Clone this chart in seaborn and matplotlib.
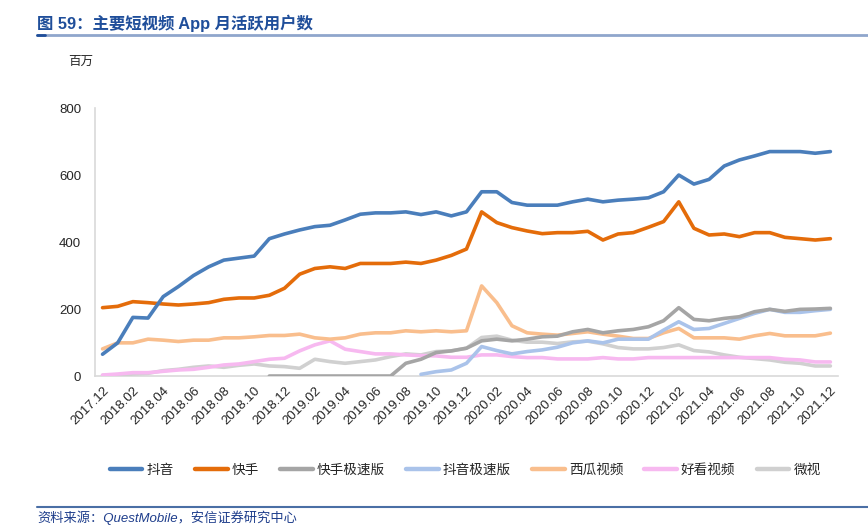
import numpy as np
import pandas as pd
import seaborn as sns
import matplotlib.pyplot as plt
from matplotlib.lines import Line2D

# monthly labels 2017.12 - 2021.12
months = ["2017.12"] + [f"{y}.{m:02d}" for y in range(2018, 2022) for m in range(1, 13)]

douyin = [65, 99, 175, 173, 237, 267, 300, 326, 346, 352, 358, 410, 424, 436, 446,
          450, 466, 483, 487, 487, 490, 482, 490, 478, 490, 550, 550, 518, 510, 510,
          510, 520, 528, 520, 525, 528, 532, 550, 600, 573, 587, 627, 645, 657, 670,
          670, 670, 665, 670]
kuaishou = [204, 208, 222, 219, 215, 212, 215, 219, 229, 233, 233, 241, 262, 304, 321,
            326, 321, 336, 336, 336, 340, 336, 346, 360, 379, 490, 458, 443, 433, 425,
            428, 428, 432, 406, 424, 428, 444, 461, 520, 441, 421, 424, 416, 428, 428,
            414, 410, 406, 410]
ks_jisu = [np.nan] * 11 + [0, 0, 0, 0, 0, 0, 0, 0, 0,
                           38, 50, 70, 75, 83, 105, 110, 105, 110, 117, 119, 132, 139,
                           129, 135, 139, 147, 165, 204, 169, 165, 172, 177, 192, 199,
                           193, 199, 200, 202]
dy_jisu = [np.nan] * 21 + [5, 13, 18, 38, 88, 76, 66, 73, 78, 86, 99, 105, 99, 110,
                           110, 110, 137, 162, 139, 142, 157, 172, 187, 199, 190, 190,
                           195, 199]
xigua = [81, 99, 99, 110, 107, 103, 107, 107, 114, 114, 117, 121, 121, 125, 114,
         110, 114, 125, 129, 129, 135, 132, 135, 132, 135, 269, 219, 150, 129, 125,
         122, 127, 132, 125, 119, 112, 112, 129, 142, 114, 114, 114, 110, 120, 127,
         120, 120, 120, 128]
haokan = [3, 6, 10, 10, 14, 18, 20, 26, 33, 36, 43, 50, 53, 75, 93,
          105, 80, 73, 66, 66, 63, 61, 60, 56, 56, 63, 63, 58, 55, 55,
          51, 51, 51, 55, 51, 51, 55, 55, 55, 55, 55, 55, 55, 55, 55,
          50, 48, 42, 42]
weishi = [2, 2, 6, 8, 16, 20, 26, 30, 26, 32, 36, 30, 28, 23, 50,
          43, 38, 43, 48, 58, 66, 63, 73, 75, 83, 115, 119, 107, 101, 101,
          97, 102, 104, 96, 85, 81, 81, 85, 93, 76, 72, 63, 56, 52, 48,
          41, 38, 30, 30]

series_names = ["抖音", "快手", "快手极速版", "抖音极速版", "西瓜视频", "好看视频", "微视"]
series_vals = [douyin, kuaishou, ks_jisu, dy_jisu, xigua, haokan, weishi]
colors = ["#4A7EBB", "#E46C0A", "#A5A5A5", "#AAC3EA", "#F9BE8D", "#F7B9F0", "#D0D0D0"]

sns.set_style("white")
plt.rcParams['font.family'] = ['Liberation Sans', 'Noto Sans CJK SC', 'DejaVu Sans']

fig = plt.figure(figsize=(8.68, 5.27), dpi=100)
ax = fig.add_axes([0.1094, 0.2865, 0.856, 0.5085])

x = np.arange(len(months))
# draw back to front so 抖音 ends on top
for i in reversed(range(len(series_names))):
    df = pd.DataFrame({"x": x, "y": series_vals[i]}).dropna()
    sns.lineplot(data=df, x="x", y="y", color=colors[i], linewidth=2.6,
                 ax=ax, zorder=10 - i, legend=False)

ax.set_xlim(-0.5, len(months) - 0.5)
ax.set_ylim(0, 800)
ax.set_yticks(range(0, 801, 200))
ax.set_xticks(x[::2])
ax.set_xticklabels(months[::2], rotation=45, ha="right", va="top",
                   rotation_mode="anchor", fontsize=9.5)
ax.tick_params(axis="y", labelsize=9.5, length=3, color="#D9D9D9", pad=7)
ax.tick_params(axis="x", length=0, pad=6)
ax.set_xlabel("")
ax.set_ylabel("")
for s in ["top", "right"]:
    ax.spines[s].set_visible(False)
for s in ["left", "bottom"]:
    ax.spines[s].set_color("#D9D9D9")
    ax.spines[s].set_linewidth(1.2)

handles = [Line2D([0], [0], color=c, lw=3.2) for c in colors]
fig.legend(handles, series_names, loc="center", bbox_to_anchor=(0.536, 0.108),
           ncol=7, frameon=False, handlelength=2.4, columnspacing=1.55,
           handletextpad=0.3, prop={"family": ["Noto Sans CJK SC"], "size": 9.8})

fig.text(0.079, 0.884, "百万", fontsize=9, va="center", family=["Noto Sans CJK SC"])

# header / footer
fig.text(0.043, 0.955, "图 59：主要短视频 App 月活跃用户数", fontsize=11.8, fontweight="bold",
         color="#1F4E9A", va="center", family=["Liberation Sans", "Noto Sans CJK SC"])
fig.add_artist(Line2D([0.043, 1.0], [0.933, 0.933], transform=fig.transFigure,
                      color="#8FA6CC", lw=2))
fig.add_artist(Line2D([0.043, 0.052], [0.933, 0.933], transform=fig.transFigure,
                      color="#1F4E9A", lw=2))
fig.add_artist(Line2D([0.043, 1.0], [0.038, 0.038], transform=fig.transFigure,
                      color="#4A6FA5", lw=1.5))
fig.text(0.043, 0.018, "资料来源：QuestMobile，安信证券研究中心", fontsize=9.5,
         style="italic", color="#1F3E8C", va="center",
         family=["Liberation Sans", "Noto Sans CJK SC"])

fig.savefig("out.png", dpi=100)
